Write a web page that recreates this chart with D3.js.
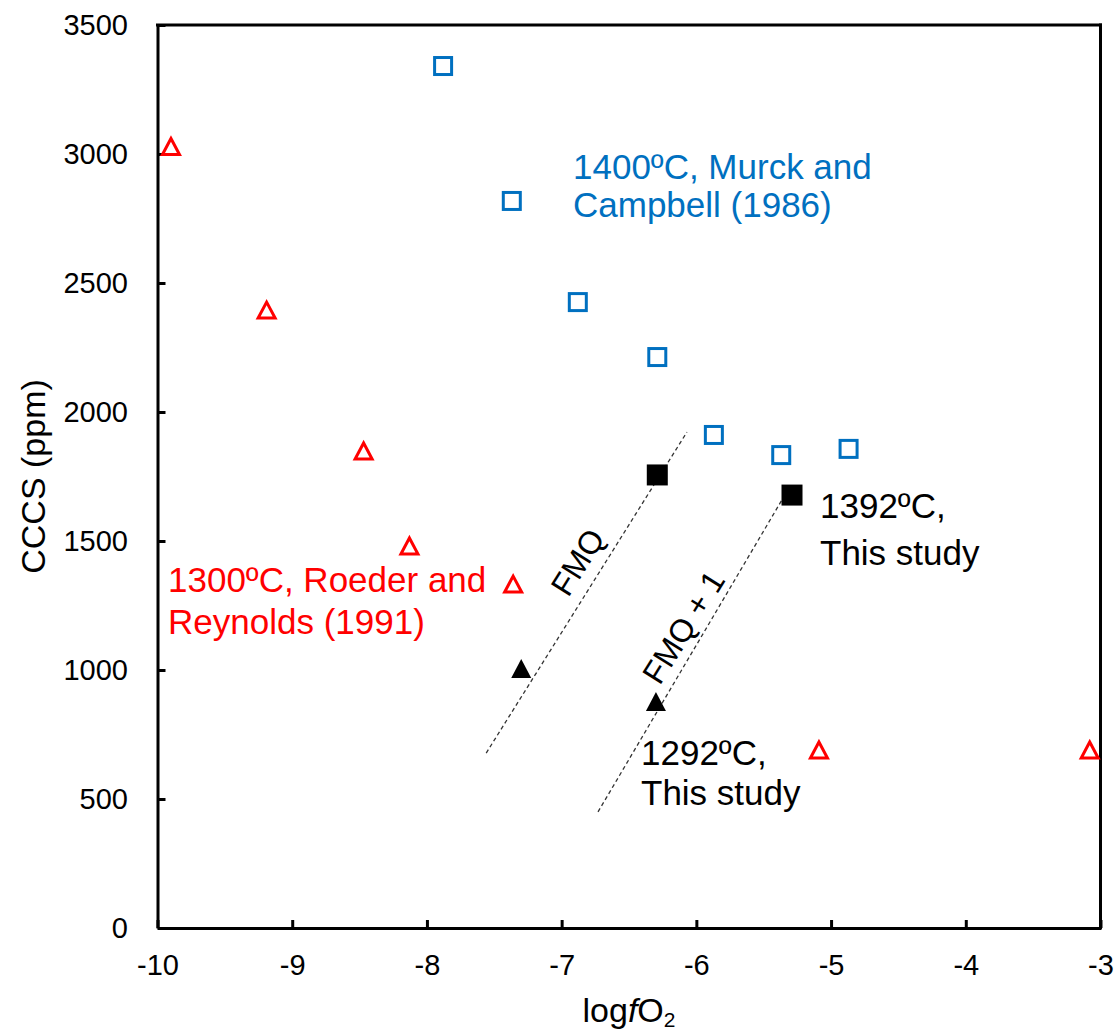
<!DOCTYPE html>
<html>
<head>
<meta charset="utf-8">
<script src="https://cdn.jsdelivr.net/npm/d3@7"></script>
<style>
  html, body { margin: 0; padding: 0; background: #fff; }
  svg { display: block; font-family: Arial, "Liberation Sans", sans-serif; }
</style>
</head>
<body>
<svg id="chart" width="1117" height="1034"></svg>
<script>
// ---- Data ----
const xTicks = [-10, -9, -8, -7, -6, -5, -4, -3];
const yTicks = [0, 500, 1000, 1500, 2000, 2500, 3000, 3500];

// 1400ºC, Murck and Campbell (1986) – open blue squares
const murckX = [-7.88, -7.37, -6.88, -6.29, -5.87, -5.37, -4.87];
const murckY = [3341, 2818, 2426, 2213, 1911, 1833, 1857];

// 1300ºC, Roeder and Reynolds (1991) – open red triangles
const roederX = [-9.9, -9.19, -8.47, -8.13, -7.36, -5.09, -3.08];
const roederY = [3025, 2391, 1845, 1477, 1329, 686, 686];

// 1392ºC, This study – filled black squares
const s1392X = [-6.29, -5.29];
const s1392Y = [1756, 1678];

// 1292ºC, This study – filled black triangles
const s1292X = [-7.30, -6.30];
const s1292Y = [1000, 872];

// Buffer lines (dashed)
const fmqX = [-7.56, -6.07];
const fmqY = [678, 1922];
const fmq1X = [-6.73, -5.33];
const fmq1Y = [450, 1690];

// ---- Layout ----
const svg = d3.select("#chart");
const L = 157.5, R = 1100.5, T = 25, B = 928;
const x = d3.scaleLinear().domain([-10, -3]).range([L, R]);
const y = d3.scaleLinear().domain([0, 3500]).range([B, T]);

const zip = (xs, ys) => xs.map((v, i) => [v, ys[i]]);

// Dashed lines
const line = d3.line().x(d => x(d[0])).y(d => y(d[1]));
[[fmqX, fmqY], [fmq1X, fmq1Y]].forEach(([xs, ys]) => {
  svg.append("path")
    .attr("d", line(zip(xs, ys)))
    .attr("fill", "none")
    .attr("stroke", "#333")
    .attr("stroke-width", 1.3)
    .attr("stroke-dasharray", "4,3");
});

// Axes
const xAxis = d3.axisBottom(x).tickValues(xTicks).tickSizeInner(-8).tickSizeOuter(0).tickPadding(26.5)
  .tickFormat(d3.format("d"));
const yAxis = d3.axisLeft(y).tickValues(yTicks).tickSizeInner(-8).tickSizeOuter(0).tickPadding(29.5)
  .tickFormat(d3.format("d"));

const gx = svg.append("g").attr("transform", `translate(0,${B})`).call(xAxis);
const gy = svg.append("g").attr("transform", `translate(${L},0)`).call(yAxis);
[gx, gy].forEach(g => {
  g.selectAll("path.domain").attr("stroke", "#000").attr("stroke-width", 3);
  g.selectAll(".tick line").attr("stroke", "#000").attr("stroke-width", 3);
  g.selectAll(".tick text").attr("fill", "#000").style("font-size", "29px")
    .style("font-family", "Arial, 'Liberation Sans', sans-serif");
});
gx.selectAll(".tick text").text(d => String(d));

// Frame top and right
svg.append("line").attr("x1", L).attr("x2", R).attr("y1", T).attr("y2", T)
  .attr("stroke", "#000").attr("stroke-width", 3).attr("stroke-linecap", "square");
svg.append("line").attr("x1", R).attr("x2", R).attr("y1", T).attr("y2", B)
  .attr("stroke", "#000").attr("stroke-width", 3).attr("stroke-linecap", "square");

// Markers
svg.append("g").selectAll("rect").data(zip(murckX, murckY)).join("rect")
  .attr("x", d => x(d[0]) - 8.5).attr("y", d => y(d[1]) - 8.5)
  .attr("width", 17).attr("height", 17)
  .attr("fill", "none").attr("stroke", "#0070C0").attr("stroke-width", 3);

svg.append("g").selectAll("path").data(zip(roederX, roederY)).join("path")
  .attr("d", d => {
    const cx = x(d[0]), cy = y(d[1]);
    return `M${cx},${cy - 9}L${cx + 8.5},${cy + 7}L${cx - 8.5},${cy + 7}Z`;
  })
  .attr("fill", "none").attr("stroke", "#FF0000").attr("stroke-width", 3).attr("stroke-linejoin", "miter");

svg.append("g").selectAll("rect").data(zip(s1392X, s1392Y)).join("rect")
  .attr("x", d => x(d[0]) - 10.5).attr("y", d => y(d[1]) - 10.5)
  .attr("width", 21).attr("height", 21).attr("fill", "#000");

svg.append("g").selectAll("path").data(zip(s1292X, s1292Y)).join("path")
  .attr("d", d => {
    const cx = x(d[0]), cy = y(d[1]);
    return `M${cx},${cy - 11}L${cx + 10},${cy + 8}L${cx - 10},${cy + 8}Z`;
  })
  .attr("fill", "#000");

// Annotations
function label(lines, px, ys, color) {
  lines.forEach((t, i) => {
    svg.append("text").attr("x", px).attr("y", ys[i]).attr("fill", color)
      .style("font-size", "35px").text(t);
  });
}
label(["1400ºC, Murck and", "Campbell (1986)"], 573, [179, 217], "#0070C0");
label(["1300ºC, Roeder and", "Reynolds (1991)"], 168, [592, 634], "#FF0000");
label(["1392ºC,", "This study"], 820, [518, 565], "#000");
label(["1292ºC,", "This study"], 641, [765, 805], "#000");

svg.append("text").attr("transform", "translate(587,568) rotate(-58)")
  .attr("text-anchor", "middle").attr("fill", "#000").style("font-size", "32px").text("FMQ");
svg.append("text").attr("transform", "translate(693,633) rotate(-58)")
  .attr("text-anchor", "middle").attr("fill", "#000").style("font-size", "32px").text("FMQ + 1");

// Axis titles
svg.append("text").attr("transform", `translate(45,${(T + B) / 2}) rotate(-90)`)
  .attr("text-anchor", "middle").attr("fill", "#000").style("font-size", "34px").text("CCCS (ppm)");

const xt = svg.append("text").attr("x", (L + R) / 2).attr("y", 1022)
  .attr("text-anchor", "middle").attr("fill", "#000").style("font-size", "34px");
xt.append("tspan").text("log");
xt.append("tspan").style("font-style", "italic").text("f");
xt.append("tspan").text("O");
xt.append("tspan").attr("dy", 5).style("font-size", "21px").text("2");
</script>
</body>
</html>
